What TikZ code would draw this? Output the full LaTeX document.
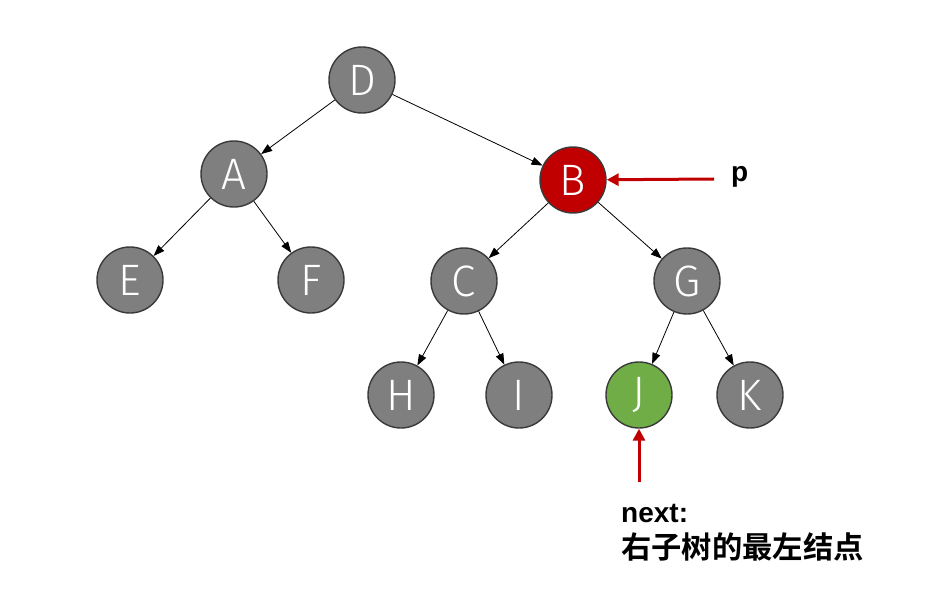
\documentclass[tikz,border=0pt]{standalone}
\usepackage{fontspec}
\usetikzlibrary{arrows.meta}
\newfontfamily\letterfont{Fira Sans Light}
\newfontfamily\labelfont{Liberation Sans}
\newfontfamily\cjk{Noto Sans CJK SC}[BoldFont={Noto Sans CJK SC Bold}]
\definecolor{nodegray}{HTML}{7F7F7F}
\definecolor{nodeedge}{HTML}{3A3A3A}
\definecolor{pred}{HTML}{C00000}
\definecolor{jgreen}{HTML}{70AD47}
\begin{document}
\begin{tikzpicture}[x=1pt,y=-1pt,
  tnode/.style={circle,draw=nodeedge,line width=1.4pt,fill=nodegray,minimum size=66pt,inner sep=0pt,text=white,font=\letterfont\fontsize{44}{44}\selectfont},
  edge/.style={draw=black,line width=0.8pt,-{Triangle[length=11pt,width=8pt]}},
  ptr/.style={draw=pred,line width=3pt,-{Triangle[length=12pt,width=12pt]}},
  lbl/.style={anchor=base west,inner sep=0pt,font=\labelfont\bfseries\fontsize{28}{28}\selectfont}]
\useasboundingbox (0,0) rectangle (939,604);
\node[tnode] (D) at (362,80) {D};
\node[tnode] (A) at (234,174) {A};
\node[tnode,fill=pred] (B) at (573,180) {B};
\node[tnode] (E) at (130,280) {E};
\node[tnode] (F) at (311,280) {F};
\node[tnode] (C) at (464,281) {C};
\node[tnode] (G) at (687,281) {G};
\node[tnode] (H) at (401,395) {H};
\node[tnode] (I) at (519,395) {I};
\node[tnode,fill=jgreen] (J) at (639,395) {J};
\node[tnode] (K) at (750,395) {K};
\draw[edge] (D) -- (A);
\draw[edge] (D) -- (B);
\draw[edge] (A) -- (E);
\draw[edge] (A) -- (F);
\draw[edge] (B) -- (C);
\draw[edge] (B) -- (G);
\draw[edge] (C) -- (H);
\draw[edge] (C) -- (I);
\draw[edge] (G) -- (J);
\draw[edge] (G) -- (K);
\coordinate (pstart) at (714,179);
\draw[ptr] (pstart) -- (B);
\node[lbl] (p) at (731,182) {p};
\coordinate (nstart) at (639,482);
\draw[ptr] (nstart) -- (J);
\node[lbl] (next) at (621,522) {next:};
\node[anchor=base west,inner sep=0pt,font=\cjk\bfseries\fontsize{30.3}{30}\selectfont] (desc) at (621,558) {右子树的最左结点};
\end{tikzpicture}
\end{document}
